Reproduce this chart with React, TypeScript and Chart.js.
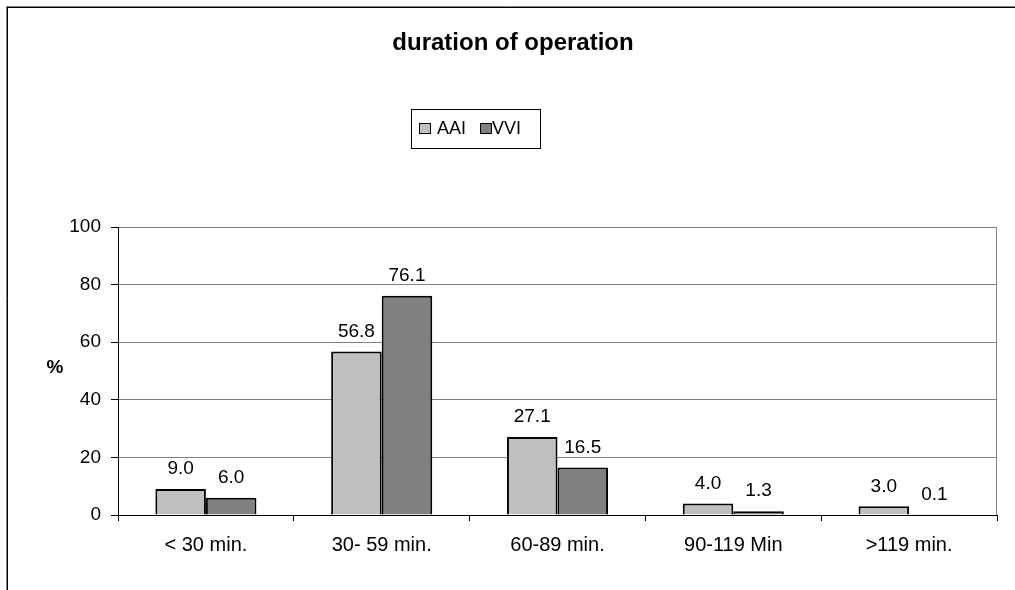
import React, { useEffect, useRef } from "react";
import { Chart, registerables } from "chart.js";

Chart.register(...registerables);

// Operation duration classes and share of patients (%) per pacing mode
const categories = ["< 30 min.", "30- 59 min.", "60-89 min.", "90-119 Min", ">119 min."];
const aaiValues = [9.0, 56.8, 27.1, 4.0, 3.0];
const vviValues = [6.0, 76.1, 16.5, 1.3, 0.1];
const seriesNames = ["AAI", "VVI"];
const seriesColors = ["#c0c0c0", "#808080"];
const yTicks = [0, 20, 40, 60, 80, 100];

const FONT = '"Liberation Sans", Arial, Helvetica, sans-serif';

// Frame, title, legend, axis caption, plot border and value labels
const decorations = {
  id: "decorations",
  afterDraw(chart: any) {
    const ctx = chart.ctx as CanvasRenderingContext2D;
    const area = chart.chartArea;
    ctx.save();

    // outer frame (top and left edges)
    ctx.lineWidth = 1;
    ctx.strokeStyle = "#808080";
    ctx.beginPath();
    ctx.moveTo(6, 6.5);
    ctx.lineTo(1015, 6.5);
    ctx.moveTo(6.5, 6);
    ctx.lineTo(6.5, 590);
    ctx.stroke();
    ctx.strokeStyle = "#000";
    ctx.beginPath();
    ctx.moveTo(7, 7.5);
    ctx.lineTo(1015, 7.5);
    ctx.moveTo(7.5, 7);
    ctx.lineTo(7.5, 590);
    ctx.stroke();

    // plot area right border
    ctx.strokeStyle = "#808080";
    ctx.beginPath();
    ctx.moveTo(Math.round(area.right) - 0.5, area.top);
    ctx.lineTo(Math.round(area.right) - 0.5, area.bottom);
    ctx.stroke();

    // title
    ctx.fillStyle = "#000";
    ctx.font = `bold 24px ${FONT}`;
    ctx.textAlign = "center";
    ctx.textBaseline = "middle";
    ctx.fillText("duration of operation", 513, 43);

    // y axis caption
    ctx.font = `bold 19px ${FONT}`;
    ctx.fillText("%", 55, 368);

    // legend
    ctx.strokeStyle = "#000";
    ctx.lineWidth = 1;
    ctx.strokeRect(411.5, 109.5, 129, 39);
    const swatchX = [419, 480];
    const textX = [437, 492];
    ctx.font = `18px ${FONT}`;
    ctx.textAlign = "left";
    seriesNames.forEach((name, i) => {
      ctx.fillStyle = seriesColors[i];
      ctx.fillRect(swatchX[i] + 0.5, 123.5, 11, 10);
      ctx.strokeRect(swatchX[i] + 0.5, 123.5, 11, 10);
      ctx.fillStyle = "#000";
      ctx.fillText(name, textX[i], 129);
    });

    // value labels above each bar
    ctx.font = `19px ${FONT}`;
    ctx.textAlign = "center";
    ctx.textBaseline = "middle";
    chart.data.datasets.forEach((ds: any, di: number) => {
      const meta = chart.getDatasetMeta(di);
      meta.data.forEach((bar: any, i: number) => {
        const v = ds.data[i] as number;
        ctx.fillText(v.toFixed(1), bar.x, bar.y - 20);
      });
    });

    ctx.restore();
  },
};

export default function App() {
  const canvasRef = useRef<HTMLCanvasElement | null>(null);

  useEffect(() => {
    if (!canvasRef.current) return;
    const chart = new Chart(canvasRef.current, {
      type: "bar",
      data: {
        labels: categories,
        datasets: [
          {
            label: seriesNames[0],
            data: aaiValues,
            backgroundColor: seriesColors[0],
            borderColor: "#000",
            borderWidth: 2,
            borderSkipped: "bottom",
            barPercentage: 1,
            categoryPercentage: 0.575,
          },
          {
            label: seriesNames[1],
            data: vviValues,
            backgroundColor: seriesColors[1],
            borderColor: "#000",
            borderWidth: 2,
            borderSkipped: "bottom",
            barPercentage: 1,
            categoryPercentage: 0.575,
          },
        ],
      },
      options: {
        responsive: false,
        animation: false,
        layout: { padding: { left: 58, right: 18, top: 227, bottom: 25 } },
        plugins: {
          legend: { display: false },
          title: { display: false },
          tooltip: { enabled: false },
        },
        scales: {
          x: {
            offset: true,
            afterFit: (scale: any) => {
              scale.height = 50;
            },
            grid: {
              display: true,
              offset: true,
              drawOnChartArea: false,
              drawTicks: true,
              tickLength: 6,
              color: "#000",
            },
            border: { display: true, color: "#000", width: 1 },
            ticks: {
              color: "#000",
              font: { family: FONT, size: 20 },
              padding: 12,
              maxRotation: 0,
            },
          },
          y: {
            min: 0,
            max: 100,
            afterFit: (scale: any) => {
              scale.width = 60;
            },
            afterBuildTicks: (scale: any) => {
              scale.ticks = yTicks.map((v) => ({ value: v }));
            },
            grid: {
              color: "#808080",
              tickColor: "#000",
              tickLength: 7,
              drawTicks: true,
            },
            border: { display: true, color: "#000", width: 1 },
            ticks: {
              color: "#000",
              font: { family: FONT, size: 19 },
              padding: 10,
            },
          },
        },
      },
      plugins: [decorations],
    });
    return () => chart.destroy();
  }, []);

  return (
    <div style={{ position: "absolute", left: 0, top: 0, width: 1015, height: 590, background: "#fff" }}>
      <canvas ref={canvasRef} width={1015} height={590} style={{ display: "block" }} />
    </div>
  );
}
